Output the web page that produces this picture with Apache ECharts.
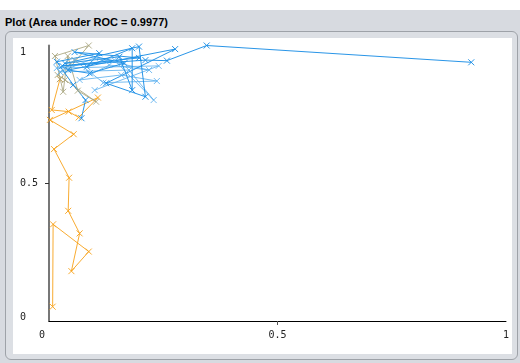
<!DOCTYPE html>
<html>
<head>
<meta charset="utf-8">
<script src="https://cdn.jsdelivr.net/npm/echarts@6/dist/echarts.min.js"></script>
<style>
  html, body { margin: 0; padding: 0; background: #ffffff; }
  #frame { position: absolute; left: 0; top: 0; width: 520px; height: 363px; background: #ffffff; }
  #band { position: absolute; left: 0; top: 10px; width: 520px; height: 353px; background: #d7dae0; }
  #title { position: absolute; left: 5px; top: 16px; font: bold 11px "Liberation Sans", Arial, sans-serif; color: #000; }
  #box { position: absolute; left: 5px; top: 31px; width: 511px; height: 327px; border: 1px solid #9ea2a8; border-radius: 6px; background: #dcdfe4; }
  #chart { position: absolute; left: 13px; top: 38px; width: 499px; height: 316px; background: #ffffff; }
</style>
</head>
<body>
<div id="frame">
  <div id="band"></div>
  <div id="title">Plot (Area under ROC = 0.9977)</div>
  <div id="box"></div>
  <div id="chart"></div>
</div>
<script>
// Threshold curve points (false positive rate, true positive rate), grouped by threshold colour band
const orangePoints = [
  [0.008, 0.052], [0.009, 0.351], [0.087, 0.252], [0.049, 0.181], [0.067, 0.318],
  [0.042, 0.400], [0.044, 0.520], [0.011, 0.624], [0.054, 0.678], [0.002, 0.730],
  [0.107, 0.811], [0.065, 0.739], [0.043, 0.760], [0.006, 0.766], [0.024, 0.878]
];
const tanPoints = [
  [0.024, 0.878], [0.087, 1.000], [0.013, 0.962], [0.031, 0.832], [0.041, 0.962],
  [0.063, 0.836], [0.103, 0.796], [0.035, 0.875], [0.019, 0.893], [0.056, 0.947]
];
const lightBluePoints = [
  [0.056, 0.947], [0.119, 0.865], [0.236, 0.871], [0.158, 0.893], [0.067, 0.875],
  [0.132, 0.929], [0.219, 0.911], [0.100, 0.955], [0.024, 0.904], [0.175, 0.911],
  [0.229, 0.802], [0.143, 0.947], [0.017, 0.918], [0.240, 0.926], [0.100, 0.838]
];
const bluePoints = [
  [0.071, 0.736], [0.080, 0.802], [0.053, 0.857], [0.017, 0.941], [0.110, 0.972],
  [0.083, 0.923], [0.182, 0.990], [0.182, 0.838], [0.154, 0.959], [0.035, 0.935],
  [0.197, 0.996], [0.211, 0.814], [0.125, 0.863], [0.276, 0.987], [0.042, 0.911],
  [0.089, 0.899], [0.165, 0.936], [0.056, 0.976], [0.197, 0.955], [0.029, 0.926],
  [0.211, 0.947], [0.258, 0.945], [0.345, 1.000], [0.924, 0.939]
];
const xTicks = [0, 0.5, 1];
const yTicks = [0, 0.5, 1];

const CROSS = 'path://M0,0L10,10M10,0L0,10';

function curve(name, data, color, opacity) {
  return {
    name: name,
    type: 'line',
    data: data,
    symbol: CROSS,
    symbolSize: 6,
    showSymbol: true,
    itemStyle: { color: 'none', borderColor: color, borderWidth: 1, opacity: opacity },
    lineStyle: { color: color, width: 1, opacity: opacity },
    emphasis: { disabled: true },
    animation: false,
    z: 2
  };
}

const chart = echarts.init(document.getElementById('chart'), null, { renderer: 'canvas' });
chart.setOption({
  backgroundColor: '#ffffff',
  animation: false,
  grid: { left: 36, right: 1, top: 7.5, bottom: 33 },
  xAxis: {
    type: 'value', min: 0, max: 1, interval: 0.5,
    axisLine: { show: true, lineStyle: { color: '#000', width: 1 } },
    axisTick: { show: true, customValues: [0.5], length: 4, lineStyle: { color: '#555' } },
    splitLine: { show: false },
    axisLabel: {
      margin: 9, color: '#222', fontFamily: 'DejaVu Sans Mono', fontSize: 10,
      customValues: xTicks,
      formatter: v => v === 0 ? '{first|0}' : String(v),
      rich: { first: { padding: [0, 14, 0, 0], fontFamily: 'DejaVu Sans Mono', fontSize: 10, color: '#222' } }
    }
  },
  yAxis: {
    type: 'value', min: 0, max: 1, interval: 0.5,
    axisLine: { show: true, lineStyle: { color: '#777', width: 2 } },
    axisTick: { show: true, customValues: [0.5], length: 4, lineStyle: { color: '#333' } },
    splitLine: { show: false },
    axisLabel: {
      margin: 29, align: 'left', color: '#222', fontFamily: 'DejaVu Sans Mono', fontSize: 10,
      customValues: yTicks,
      formatter: v => v === 1 ? '{top|1}' : (v === 0 ? '{bottom|0}' : String(v)),
      rich: {
        top: { padding: [14, 0, 0, 0], fontFamily: 'DejaVu Sans Mono', fontSize: 10, color: '#222' },
        bottom: { padding: [0, 0, 8, 0], fontFamily: 'DejaVu Sans Mono', fontSize: 10, color: '#222' }
      }
    }
  },
  series: [
    curve('orange', orangePoints, '#f7a21b', 0.9),
    curve('tan', tanPoints, '#a8a47e', 0.85),
    curve('lightblue', lightBluePoints, '#5fb2ee', 0.85),
    curve('blue', bluePoints, '#1e8fe6', 0.95)
  ]
});
</script>
</body>
</html>
